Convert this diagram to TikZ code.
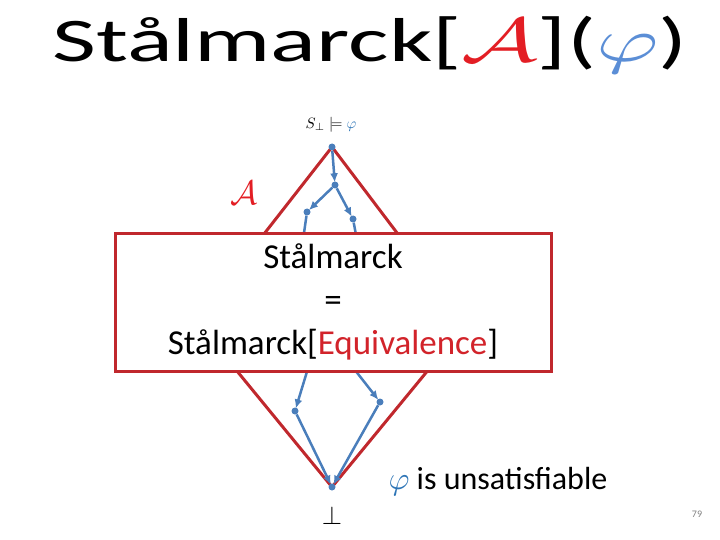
\documentclass[tikz,border=0pt]{standalone}
\usepackage{fontspec}
\setmainfont{Carlito}
\usetikzlibrary{arrows.meta}
\definecolor{dred}{HTML}{C0282D}
\definecolor{tred}{HTML}{E31E24}
\definecolor{eqred}{HTML}{D2232A}
\definecolor{gblue}{HTML}{4A7EBB}
\definecolor{phiblue}{HTML}{2E75B6}
\definecolor{tphi}{HTML}{5B8ED6}
\newcommand{\bigmath}[2]{{\fontsize{10}{12}\selectfont\scalebox{#1}{$#2$}}}
\tikzset{
  gdot/.style={circle,fill=gblue,inner sep=0pt,minimum size=7pt},
  garrow/.style={draw=gblue,line width=2.5pt,-{Latex[length=9pt,width=8pt]},shorten >=-1pt},
  gline/.style={draw=gblue,line width=2.5pt},
  redline/.style={draw=dred,line width=3pt,line join=miter},
  mainbox/.style={draw=dred,line width=3pt,fill=white,minimum width=436pt,minimum height=138pt,align=center,font=\fontsize{35}{43}\selectfont,inner sep=0pt}
}
\begin{document}
\begin{tikzpicture}[x=1pt,y=-1pt]
\useasboundingbox (0,0) rectangle (720,540);
% title
\node[xscale=1.54,font=\fontsize{62}{64}\selectfont] (title) at (370,45)
  {Stålmarck[\textcolor{tred}{\bigmath{6.2}{\mathcal{A}}}](\textcolor{tphi}{\bigmath{6.2}{\varphi}})};
% red diamond
\coordinate (T) at (332,147);
\coordinate (L) at (196,321);
\coordinate (B) at (332,487);
\coordinate (R) at (466,324);
\draw[redline] (T) -- (L) -- (B) -- (R) -- cycle;
% graph nodes
\node[gdot] (n0) at (332,147) {};
\node[gdot] (n1) at (335,185) {};
\node[gdot] (n2) at (307,212) {};
\node[gdot] (n3) at (353,219) {};
\node[gdot] (n4) at (295,411) {};
\node[gdot] (n5) at (380,402) {};
\node[gdot] (n6) at (332,487) {};
\coordinate (b1) at (303,240);
\coordinate (b2) at (357,240);
\coordinate (b3) at (309,365);
\coordinate (b4) at (351,365);
\draw[garrow] (n0) -- (n1);
\draw[garrow] (n1) -- (n2);
\draw[garrow] (n1) -- (n3);
\draw[gline] (n2) -- (b1);
\draw[gline] (n3) -- (b2);
\draw[garrow] (b3) -- (n4);
\draw[garrow] (b4) -- (n5);
\draw[garrow] (n4) -- (n6);
\draw[garrow] (n5) -- (n6);
% box
\node[mainbox] (box) at (333,302)
  {Stålmarck\\=\\Stålmarck[\textcolor{eqred}{Equivalence}]};
% labels
\node[inner sep=1pt] (top) at (331,125) {\bigmath{1.5}{S_{\bot}\models\textcolor{phiblue}{\varphi}}};
\node[text=tred] (A) at (244,193) {\bigmath{3.4}{\mathcal{A}}};
\node (bot) at (332,515) {\bigmath{2.6}{\bot}};
\node[anchor=west,font=\fontsize{32}{34}\selectfont] (unsat) at (385,481) {\textcolor{phiblue}{\bigmath{3.2}{\varphi}} is unsatisfiable};
\node[text=gray,font=\fontsize{10}{12}\selectfont] (pg) at (697,514) {79};
\end{tikzpicture}
\end{document}
